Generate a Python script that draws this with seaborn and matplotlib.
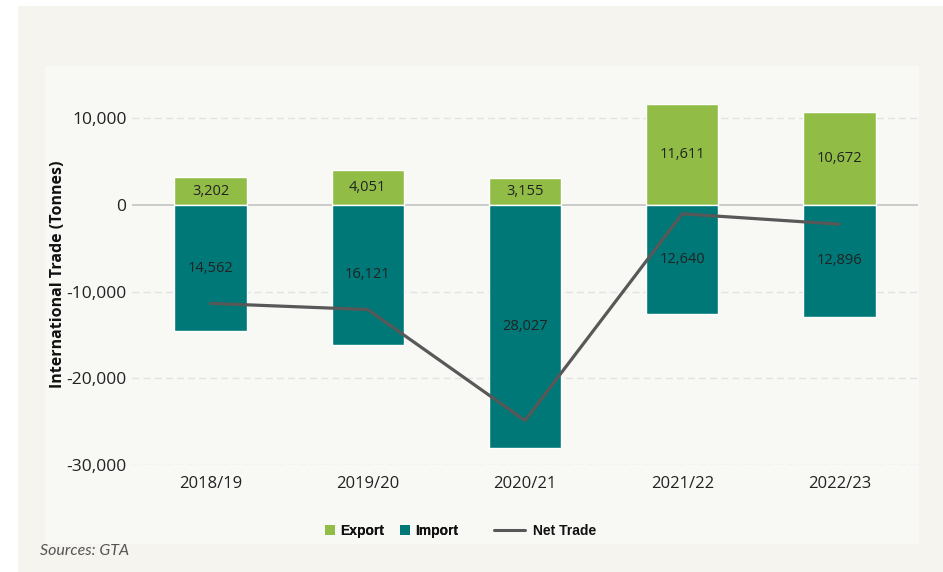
import matplotlib
matplotlib.use("Agg")
import matplotlib.pyplot as plt
from matplotlib.patches import Rectangle, Patch
from matplotlib.lines import Line2D
import seaborn as sns
import pandas as pd

years = ["2018/19", "2019/20", "2020/21", "2021/22", "2022/23"]
exports = [3202, 4051, 3155, 11611, 10672]
imports = [14562, 16121, 28027, 12640, 12896]
net_trade = [e - i for e, i in zip(exports, imports)]
y_ticks = [10000, 0, -10000, -20000, -30000]

EXPORT_C = "#91BD47"
IMPORT_C = "#007878"
LINE_C = "#585858"

sns.set_theme(style="white")
plt.rcParams["font.family"] = ["Open Sans", "DejaVu Sans"]

fig = plt.figure(figsize=(9.43, 5.72), dpi=100)
fig.patch.set_facecolor("white")
W, H = 943, 572
fig.patches.append(Rectangle((18 / W, 0), 1 - 18 / W, 1 - 6 / H, transform=fig.transFigure,
                             facecolor="#F5F4EF", edgecolor="none", zorder=-2))
fig.patches.append(Rectangle((45 / W, 1 - 544 / H), (919 - 45) / W, (544 - 66) / H,
                             transform=fig.transFigure, facecolor="#F8F8F5",
                             edgecolor="none", zorder=-1))

ymin, ymax = -30000, 14000
px_per = 86.7 / 10000
ax_bottom = (H - 465) / H
ax_height = (ymax - ymin) * px_per / H
ax = fig.add_axes([132 / W, ax_bottom, (918 - 132) / W, ax_height])
ax.set_facecolor("none")

df = pd.DataFrame({"Year": years, "Export": exports,
                   "Import": [-v for v in imports], "Net": net_trade})

sns.barplot(data=df, x="Year", y="Export", color=EXPORT_C, width=0.46,
            saturation=1, ax=ax, zorder=2)
sns.barplot(data=df, x="Year", y="Import", color=IMPORT_C, width=0.46,
            saturation=1, ax=ax, zorder=2)
sns.lineplot(data=df, x="Year", y="Net", color=LINE_C, linewidth=2.3,
             ax=ax, zorder=3, sort=False)

ax.bar_label(ax.containers[0], labels=[f"{v:,}" for v in exports],
             label_type="center", fontsize=10.5, color="#222222")
ax.bar_label(ax.containers[1], labels=[f"{v:,}" for v in imports],
             label_type="center", fontsize=10.5, color="#222222")

ax.set_xlim(-0.5, 4.5)
ax.set_ylim(ymin, ymax)
ax.set_yticks(y_ticks)
ax.set_yticklabels([f"{v:,}" for v in y_ticks], fontsize=12.5, color="#222222")
ax.tick_params(axis="x", labelsize=12, colors="#222222", length=0, pad=8)
ax.tick_params(axis="y", length=0, pad=4)
for t in y_ticks:
    if t == 0:
        ax.axhline(0, color="#C8C8C8", linewidth=1.3, zorder=1)
    else:
        ax.axhline(t, color="#E2E2E2", linewidth=1.0, linestyle=(0, (5, 3)), zorder=1)
ax.set_xlabel("")
ax.set_ylabel("International Trade (Tonnes)", fontsize=11.5, fontweight="bold",
              color="#111111", labelpad=0)
for s in ax.spines.values():
    s.set_visible(False)
ax.grid(False)

leg_prop = {"family": "Liberation Sans", "weight": "bold", "size": 10}
bar_handles = [Patch(facecolor=EXPORT_C, edgecolor="none", label="Export"),
               Patch(facecolor=IMPORT_C, edgecolor="none", label="Import")]
leg1 = fig.legend(handles=bar_handles, loc="center left",
                  bbox_to_anchor=(312 / W, 1 - 531 / H), ncol=2, frameon=False,
                  handlelength=0.75, handleheight=0.75, handletextpad=0.35,
                  columnspacing=1.15, prop=leg_prop)
for t in leg1.get_texts():
    t.set_color("#111111")
line_handles = [Line2D([], [], color=LINE_C, linewidth=2.2, label="Net Trade")]
leg2 = fig.legend(handles=line_handles, loc="center left",
                  bbox_to_anchor=(482 / W, 1 - 531 / H), frameon=False,
                  handlelength=2.16, handletextpad=0.58, prop=leg_prop)
for t in leg2.get_texts():
    t.set_color("#111111")
fig.add_artist(leg1)

fig.text(40 / W, 1 - 551 / H, "Sources: GTA", fontsize=11.5, style="italic",
         color="#555555", va="center", family=["Lato", "DejaVu Sans"])

fig.savefig("out.png", dpi=100, facecolor=fig.get_facecolor())
